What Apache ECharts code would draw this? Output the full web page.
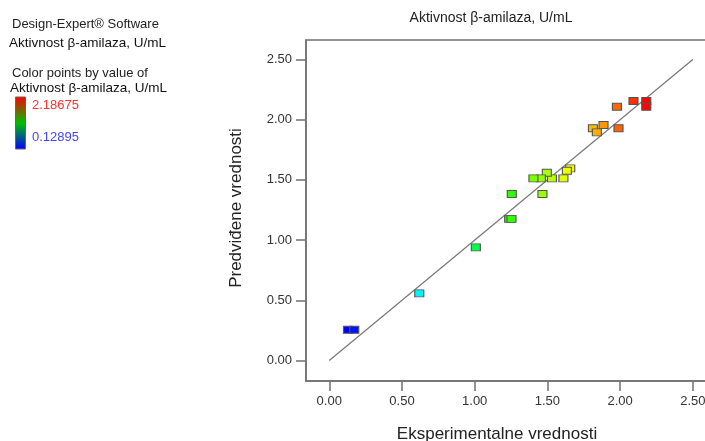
<!DOCTYPE html>
<html>
<head>
<meta charset="utf-8">
<script src="https://cdn.jsdelivr.net/npm/echarts@6/dist/echarts.min.js"></script>
<style>html,body{margin:0;padding:0;background:#fff}#c{width:705px;height:441px}</style>
</head>
<body>
<div id="c"></div>
<script>
// Data
var actual    = [2.180, 2.180, 2.092, 1.978, 1.989, 1.886, 1.813, 1.840, 1.657, 1.634, 1.610, 1.531, 1.496, 1.455, 1.404, 1.255, 1.466, 1.237, 1.253, 1.008, 0.619, 0.129, 0.172];
var predicted = [2.155, 2.108, 2.155, 2.108, 1.929, 1.956, 1.929, 1.895, 1.596, 1.576, 1.513, 1.513, 1.560, 1.513, 1.513, 1.383, 1.383, 1.176, 1.176, 0.940, 0.558, 0.256, 0.256];
var tickValues = [0, 0.5, 1.0, 1.5, 2.0, 2.5];
var fitLine = [[0, 0], [2.5, 2.5]];
var colorMin = 0.12895, colorMax = 2.18675;

var font = 'Liberation Sans, Arial, sans-serif';
var points = actual.map(function (a, i) { return [a, predicted[i]]; });

var chart = echarts.init(document.getElementById('c'));
chart.setOption({
  animation: false,
  backgroundColor: '#fff',
  grid: { left: 306, top: 40, width: 413, height: 341, show: true, borderColor: '#707070', borderWidth: 1.5,
    backgroundColor: 'transparent', containLabel: false, outerBoundsMode: 'none' },
  xAxis: {
    type: 'value', min: -0.16, max: 2.68,
    splitLine: { show: false },
    axisLine: { onZero: false, lineStyle: { color: '#707070', width: 1.5 } },
    axisTick: { length: 10, lineStyle: { color: '#707070', width: 1.5 }, customValues: tickValues },
    axisLabel: { customValues: tickValues, margin: 14, color: '#333', fontSize: 13, fontFamily: font,
      formatter: function (v) { return v.toFixed(2); } }
  },
  yAxis: {
    type: 'value', min: -0.17, max: 2.662,
    splitLine: { show: false },
    axisLine: { onZero: false, lineStyle: { color: '#707070', width: 1.5 } },
    axisTick: { length: 10, lineStyle: { color: '#707070', width: 1.5 }, customValues: tickValues },
    axisLabel: { customValues: tickValues, margin: 14, color: '#333', fontSize: 13, fontFamily: font,
      formatter: function (v) { return v.toFixed(2); } }
  },
  visualMap: {
    show: false, type: 'continuous', seriesIndex: 1, dimension: 0,
    min: colorMin, max: colorMax,
    inRange: { color: ['#0000ff', '#00ffff', '#00ff00', '#ffff00', '#ff0000'] }
  },
  series: [
    { type: 'line', data: fitLine, symbol: 'none', lineStyle: { color: '#777', width: 1.2 }, silent: true, z: 1 },
    { type: 'scatter', data: points, symbol: 'rect', symbolSize: [9, 7],
      itemStyle: { borderColor: '#555', borderWidth: 1, opacity: 1 }, z: 3 }
  ],
  graphic: [
    { type: 'text', x: 491, y: 18, style: { text: 'Aktivnost β-amilaza, U/mL', fill: '#222', font: '14px ' + font, textAlign: 'center', textVerticalAlign: 'middle' } },
    { type: 'text', x: 12, y: 24, style: { text: 'Design-Expert® Software', fill: '#222', font: '13px ' + font, textVerticalAlign: 'middle' } },
    { type: 'text', x: 9, y: 43, style: { text: 'Aktivnost β-amilaza, U/mL', fill: '#111', font: '13.5px ' + font, textVerticalAlign: 'middle' } },
    { type: 'text', x: 12, y: 73, style: { text: 'Color points by value of', fill: '#222', font: '13px ' + font, textVerticalAlign: 'middle' } },
    { type: 'text', x: 10, y: 88, style: { text: 'Aktivnost β-amilaza, U/mL', fill: '#111', font: '13.5px ' + font, textVerticalAlign: 'middle' } },
    { type: 'rect', shape: { x: 15.5, y: 97, width: 10, height: 52 },
      style: { stroke: '#666', lineWidth: 1,
        fill: new echarts.graphic.LinearGradient(0, 0, 0, 1, [
          { offset: 0, color: '#ff0000' }, { offset: 0.5, color: '#00c000' }, { offset: 1, color: '#0000ff' }]) } },
    { type: 'text', x: 32, y: 105, style: { text: colorMax.toFixed(5), fill: '#ff3333', font: '13px ' + font, textVerticalAlign: 'middle' } },
    { type: 'text', x: 32, y: 137, style: { text: colorMin.toFixed(5), fill: '#4444ff', font: '13px ' + font, textVerticalAlign: 'middle' } },
    { type: 'text', x: 497, y: 434, style: { text: 'Eksperimentalne vrednosti', fill: '#222', font: '17px ' + font, textAlign: 'center', textVerticalAlign: 'middle' } },
    { type: 'text', x: 236, y: 208, rotation: Math.PI / 2, style: { text: 'Predviđene vrednosti', fill: '#222', font: '17px ' + font, textAlign: 'center', textVerticalAlign: 'middle' } }
  ]
});
</script>
</body>
</html>
